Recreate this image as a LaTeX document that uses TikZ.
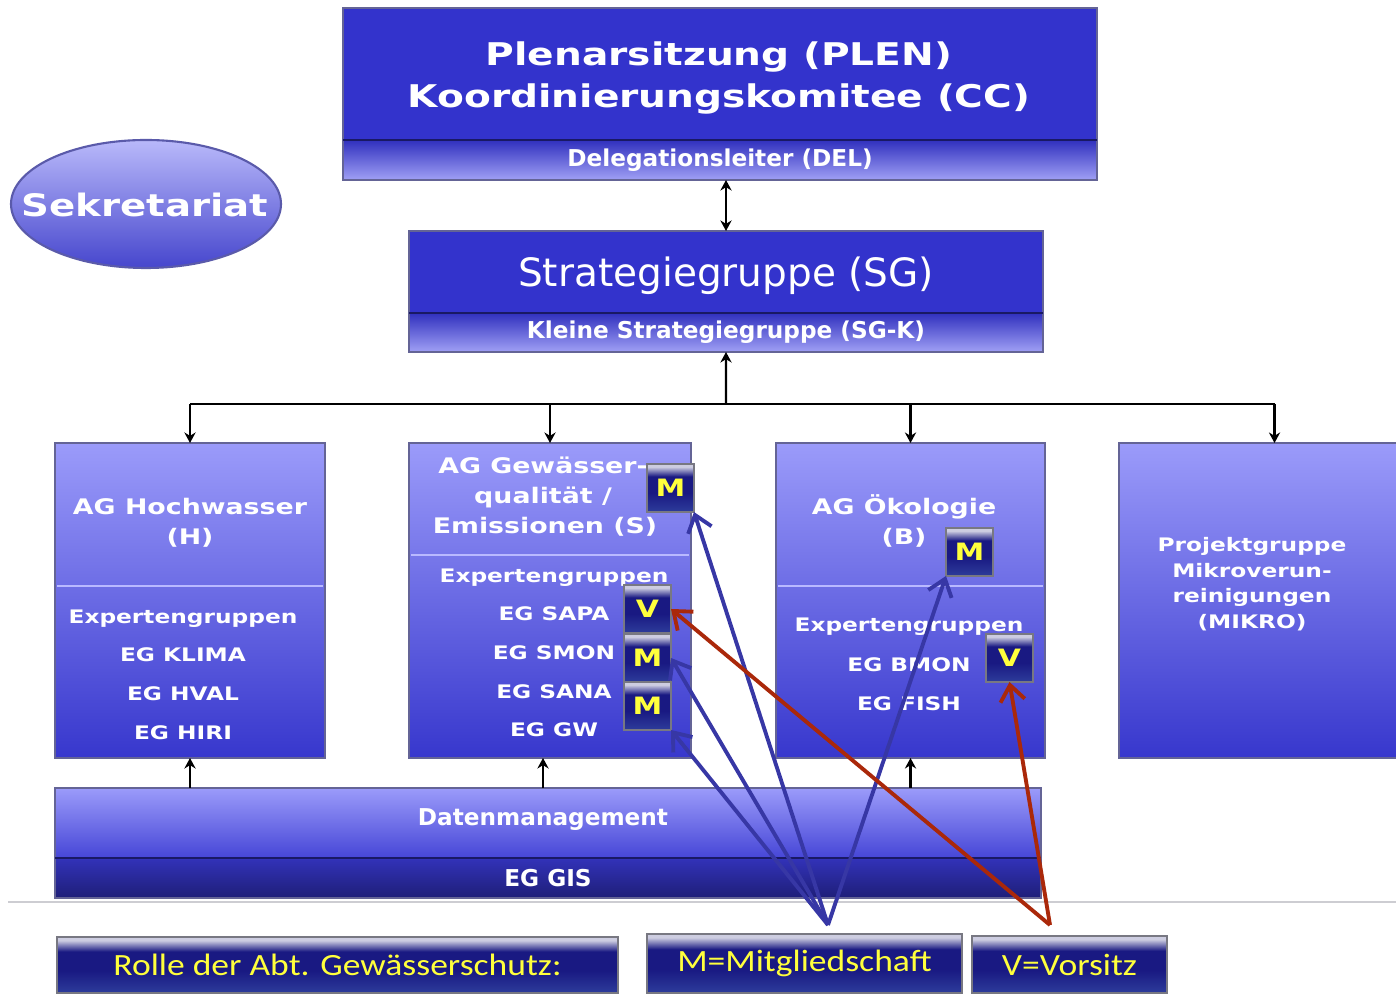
\documentclass[tikz,border=0pt]{standalone}
\usepackage{fontspec}
\newfontfamily\wideface[FakeStretch=1.25]{DejaVu Sans}
\newfontfamily\dvsans{DejaVu Sans}
\newfontfamily\legendface[FakeStretch=1.15]{Carlito}
\usetikzlibrary{shapes.geometric,arrows.meta}

\definecolor{boxdark}{RGB}{51,51,204}
\definecolor{bandtop}{RGB}{48,48,190}
\definecolor{bandlow}{RGB}{160,160,245}
\definecolor{boxlight}{RGB}{155,155,250}
\definecolor{boxdeep}{RGB}{55,55,205}
\definecolor{dmlow}{RGB}{70,70,215}
\definecolor{gistop}{RGB}{50,50,185}
\definecolor{gislow}{RGB}{30,30,120}
\definecolor{navy}{RGB}{25,25,130}
\definecolor{navylow}{RGB}{45,60,155}
\definecolor{badgetop}{RGB}{205,205,225}
\definecolor{badgerim}{RGB}{120,120,130}
\definecolor{rim}{RGB}{100,100,150}
\definecolor{sepdark}{RGB}{25,25,100}
\definecolor{divline}{RGB}{185,185,255}
\definecolor{elltop}{RGB}{185,185,250}
\definecolor{ellbottom}{RGB}{70,70,205}
\definecolor{ellrim}{RGB}{90,90,170}
\definecolor{membblue}{RGB}{55,55,165}
\definecolor{chairred}{RGB}{170,40,10}
\definecolor{textyellow}{RGB}{255,255,60}
\definecolor{pageline}{RGB}{205,205,210}

\pgfdeclareverticalshading{badgeshade}{100bp}{color(0bp)=(navylow); color(25bp)=(navylow); color(45bp)=(navy); color(62bp)=(navy); color(72bp)=(badgetop); color(75bp)=(badgetop); color(100bp)=(badgetop)}

\tikzset{
  rimmed/.style={draw=rim, line width=0.4pt, inner sep=0pt, outer sep=0pt, anchor=north west},
  topbox/.style={rimmed, fill=boxdark},
  band/.style={rimmed, top color=bandtop, bottom color=bandlow, text=white,
    font=\dvsans\bfseries\fontsize{6.6}{8}\selectfont},
  agbox/.style={rimmed, top color=boxlight, bottom color=boxdeep, minimum height=31.5mm},
  badge/.style={draw=badgerim, line width=0.7pt, shading=badgeshade, inner sep=0pt, outer sep=0pt,
    minimum width=4.7mm, minimum height=4.8mm, anchor=north west, text=textyellow,
    font=\wideface\bfseries\fontsize{6.8}{8}\selectfont},
  legend/.style={badge, font=\legendface\fontsize{8.8}{10}\selectfont},
  head/.style={text=white, inner sep=0pt, anchor=base, font=\wideface\bfseries\fontsize{6.1}{7}\selectfont},
  eg/.style={head, font=\wideface\bfseries\fontsize{5.3}{6}\selectfont},
  title/.style={head, font=\wideface\bfseries\fontsize{8.9}{10}\selectfont},
  divide/.style={draw=divline, line width=0.6pt},
  sepline/.style={draw=sepdark, line width=0.6pt},
  conn/.style={line width=0.6pt, >={Stealth[length=3pt,width=3.2pt]}},
  memb/.style={draw=membblue, line width=1.1pt, -{Straight Barb[length=4.5pt,width=7pt]}},
  chair/.style={memb, draw=chairred},
}

\begin{document}
\begin{tikzpicture}[x=0.1mm, y=-0.1mm]
  \useasboundingbox (0,0) rectangle (1396,996);

  \node[topbox, minimum width=75.4mm, minimum height=13.2mm] (plen) at (343,8) {};
  \node[band, minimum width=75.4mm, minimum height=4mm] (del) at (343,140) {Delegationsleiter (DEL)};
  \draw[sepline] (del.north west) -- (del.north east);
  \node[title] (plenA) at (719,66) {Plenarsitzung (PLEN)};
  \node[title] (plenB) at (719,108) {Koordinierungskomitee (CC)};

  \node[topbox, minimum width=63.4mm, minimum height=8.2mm] (sg) at (409,231) {};
  \node[band, minimum width=63.4mm, minimum height=3.9mm] (sgk) at (409,313) {Kleine Strategiegruppe (SG-K)};
  \draw[sepline] (sgk.north west) -- (sgk.north east);
  \node[head, font=\dvsans\fontsize{11.1}{13}\selectfont] (sgname) at (726,287) {Strategiegruppe (SG)};

  \node[ellipse, draw=ellrim, line width=0.6pt, top color=elltop, bottom color=ellbottom,
    minimum width=27mm, minimum height=12.8mm, inner sep=0pt] (sek) at (146,204) {};
  \node[title, font=\wideface\bfseries\fontsize{8.8}{10}\selectfont] (sekname) at (145,217) {Sekretariat};

  \node[agbox, minimum width=27mm] (agh) at (55,443) {};
  \node[agbox, minimum width=28.2mm] (ags) at (409,443) {};
  \node[agbox, minimum width=26.9mm] (agb) at (776,443) {};
  \node[agbox, minimum width=31.1mm] (mikro) at (1119,443) {};
  \draw[divide] (57,586) -- (323,586);
  \draw[divide] (411,555) -- (689,555);
  \draw[divide] (778,586) -- (1043,586);

  \node[head] (hA) at (190,515) {AG Hochwasser};
  \node[head] (hB) at (190,545) {(H)};
  \node[eg] (hC) at (183,624) {Expertengruppen};
  \node[eg] (hD) at (183,662) {EG KLIMA};
  \node[eg] (hE) at (183,701) {EG HVAL};
  \node[eg] (hF) at (183,740) {EG HIRI};

  \node[head] (sA) at (543,474) {AG Gewässer-};
  \node[head] (sB) at (543,504) {qualität /};
  \node[head] (sC) at (545,534) {Emissionen (S)};
  \node[eg] (sD) at (554,583) {Expertengruppen};
  \node[eg] (sE) at (554,621) {EG SAPA};
  \node[eg] (sF) at (554,660) {EG SMON};
  \node[eg] (sG) at (554,699) {EG SANA};
  \node[eg] (sH) at (554,737) {EG GW};

  \node[head] (bA) at (904,515) {AG Ökologie};
  \node[head] (bB) at (904,545) {(B)};
  \node[eg] (bC) at (909,632) {Expertengruppen};
  \node[eg] (bD) at (909,672) {EG BMON};
  \node[eg] (bE) at (909,711) {EG FISH};

  \node[eg] (kA) at (1252,552) {Projektgruppe};
  \node[eg] (kB) at (1252,578) {Mikroverun-};
  \node[eg] (kC) at (1252,603) {reinigungen};
  \node[eg] (kD) at (1252,629) {(MIKRO)};

  \node[badge] (ms) at (647,464) {M};
  \node[badge] (vsapa) at (624,585) {V};
  \node[badge] (msmon) at (624,634) {M};
  \node[badge] (msana) at (624,682) {M};
  \node[badge] (mb) at (946,528) {M};
  \node[badge] (vb) at (986,634) {V};

  \node[rimmed, top color=boxlight, bottom color=dmlow, minimum width=98.6mm, minimum height=7mm] (dm) at (55,788) {};
  \node[rimmed, top color=gistop, bottom color=gislow, minimum width=98.6mm, minimum height=4mm,
    text=white, font=\dvsans\bfseries\fontsize{6.6}{8}\selectfont] (gis) at (55,858) {EG GIS};
  \draw[sepline] (gis.north west) -- (gis.north east);
  \node[head, font=\dvsans\bfseries\fontsize{6.6}{8}\selectfont] (dmname) at (543,826) {Datenmanagement};

  \draw[pageline, line width=0.4pt] (8,902) -- (1396,902);

  \node[legend, minimum width=56.1mm, minimum height=5.6mm] (rolle) at (57,937) {Rolle der Abt. Gewässerschutz:};
  \node[legend, minimum width=31.5mm, minimum height=5.9mm] (mleg) at (647,934) {M=Mitgliedschaft};
  \node[legend, minimum width=19.5mm, minimum height=5.7mm] (vleg) at (972,936) {V=Vorsitz};

  \draw[conn, <->] (del.south -| sg.north) -- (sg.north);
  \coordinate (hub) at (726,404);
  \draw[conn, ->] (hub) -- (sgk.south);
  \draw[conn] (agh.north |- hub) -- (mikro.north |- hub);
  \draw[conn, ->] (agh.north |- hub) -- (agh.north);
  \draw[conn, ->] (ags.north |- hub) -- (ags.north);
  \draw[conn, ->] (agb.north |- hub) -- (agb.north);
  \draw[conn, ->] (mikro.north |- hub) -- (mikro.north);
  \draw[conn, ->] (agh.south |- dm.north) -- (agh.south);
  \draw[conn, ->] (dmname |- dm.north) -- (dmname |- ags.south);
  \draw[conn, ->] (agb.south |- dm.north) -- (agb.south);

  \coordinate (mroot) at (828,925);
  \coordinate (vroot) at (1050,925);
  \draw[memb] (mroot) -- (ms.south east);
  \draw[memb] (mroot) -- (msmon.east);
  \draw[memb] (mroot) -- (msana.south east);
  \draw[memb] (mroot) -- (mb.south west);
  \draw[chair] (vroot) -- (vsapa.east);
  \draw[chair] (vroot) -- (vb.south);
\end{tikzpicture}
\end{document}
